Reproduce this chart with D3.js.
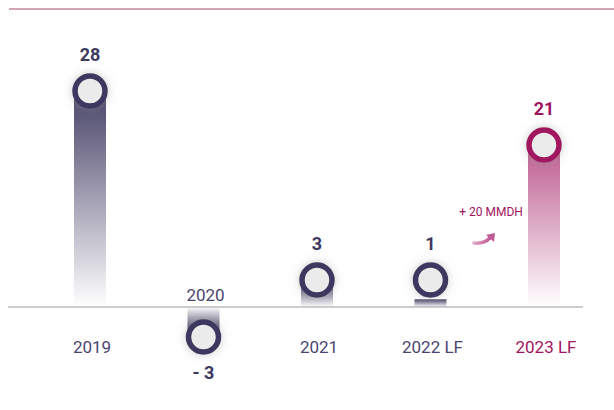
<!DOCTYPE html>
<html>
<head>
<meta charset="utf-8">
<script src="https://cdn.jsdelivr.net/npm/d3@7"></script>
<style>
  body { margin: 0; background: #fff; }
  text { font-family: Roboto, "Noto Sans", sans-serif; }
</style>
</head>
<body>
<div id="chart"></div>
<script>
'use strict';

// data
var years  = ["2019", "2020", "2021", "2022 LF", "2023 LF"];
var values = [28, -3, 3, 1, 21];
var valueLabels = ["28", "- 3", "3", "1", "21"];
var note = "+ 20 MMDH";

var width = 614, height = 410;
var navy = "#3d385f", crimson = "#a0145e";

var svg = d3.select("#chart").append("svg")
    .attr("width", width).attr("height", height);

var x = d3.scalePoint().domain(years).range([90, 544]);
var y = d3.scaleLinear().domain([0, 28]).range([307, 91]);

var defs = svg.append("defs");

// soft glow under the circles
var f = defs.append("filter").attr("id", "glow")
    .attr("x", "-80%").attr("y", "-80%").attr("width", "260%").attr("height", "260%");
f.append("feDropShadow").attr("dx", 0).attr("dy", 0)
    .attr("stdDeviation", 5).attr("flood-color", "#999").attr("flood-opacity", 0.5);

years.forEach(function(d, i) {
    var col = i === 4 ? crimson : navy;
    var neg = values[i] < 0;
    var g = defs.append("linearGradient").attr("id", "grad" + i)
        .attr("x1", 0).attr("x2", 0)
        .attr("y1", neg ? 1 : 0).attr("y2", neg ? 0 : 1);
    g.append("stop").attr("offset", 0).attr("stop-color", col).attr("stop-opacity", i === 4 ? 0.7 : 0.95);
    g.append("stop").attr("offset", 1).attr("stop-color", col).attr("stop-opacity", 0);
});

var arrowGrad = defs.append("linearGradient").attr("id", "arrowGrad")
    .attr("x1", 0).attr("x2", 1).attr("y1", 0).attr("y2", 0);
arrowGrad.append("stop").attr("offset", 0).attr("stop-color", "#e0a8c8");
arrowGrad.append("stop").attr("offset", 1).attr("stop-color", "#c05a95");

// top rule
svg.append("line")
    .attr("x1", 9).attr("x2", width).attr("y1", 9).attr("y2", 9)
    .attr("stroke", "#c4869f").attr("stroke-width", 1.5);

// bars
var barW = 32;
svg.selectAll(".bar").data(values).enter().append("rect")
    .attr("class", "bar")
    .attr("x", function(d, i) { return x(years[i]) - barW / 2; })
    .attr("y", function(d) { return Math.min(y(d), y(0)); })
    .attr("width", barW)
    .attr("height", function(d) { return Math.abs(y(d) - y(0)); })
    .attr("fill", function(d, i) { return "url(#grad" + i + ")"; });

// baseline
svg.append("line")
    .attr("x1", 8).attr("x2", 583).attr("y1", y(0)).attr("y2", y(0))
    .attr("stroke", "#9a9a9a").attr("stroke-width", 1);

// circle centre keeps clear of the baseline
function cy(d) {
    return d < 0 ? Math.max(y(d), y(0) + 30) : Math.min(y(d), y(0) - 27);
}

svg.selectAll(".dot").data(values).enter().append("circle")
    .attr("class", "dot")
    .attr("cx", function(d, i) { return x(years[i]); })
    .attr("cy", cy)
    .attr("r", 15)
    .attr("fill", "#ebebeb")
    .attr("stroke", function(d, i) { return i === 4 ? crimson : navy; })
    .attr("stroke-width", 5.5)
    .attr("filter", "url(#glow)");

// value labels
svg.selectAll(".val").data(values).enter().append("text")
    .attr("class", "val")
    .attr("x", function(d, i) { return x(years[i]); })
    .attr("y", function(d) { return d < 0 ? cy(d) + 42 : cy(d) - 30; })
    .attr("text-anchor", "middle")
    .attr("font-size", 18).attr("font-weight", "bold")
    .attr("fill", function(d, i) { return i === 4 ? crimson : navy; })
    .text(function(d, i) { return valueLabels[i]; });

// category labels
svg.selectAll(".cat").data(years).enter().append("text")
    .attr("class", "cat")
    .attr("x", function(d) { return x(d) + 2; })
    .attr("y", function(d, i) { return values[i] < 0 ? y(0) - 6 : y(0) + 46; })
    .attr("text-anchor", "middle")
    .attr("font-size", 17)
    .attr("fill", function(d, i) { return i === 4 ? crimson : "#4a4570"; })
    .text(function(d) { return d; });

// note and swoosh arrow
svg.append("text")
    .attr("x", 491).attr("y", 216)
    .attr("text-anchor", "middle")
    .attr("font-size", 12)
    .attr("fill", crimson)
    .text(note);

svg.append("path")
    .attr("d", "M474,243 Q484,244 490,238")
    .attr("fill", "none").attr("stroke", "url(#arrowGrad)")
    .attr("stroke-width", 3.5).attr("stroke-linecap", "round");
svg.append("path")
    .attr("d", "M486,235 L495,233 L494,242 Z")
    .attr("fill", "#c05a95");
</script>
</body>
</html>
